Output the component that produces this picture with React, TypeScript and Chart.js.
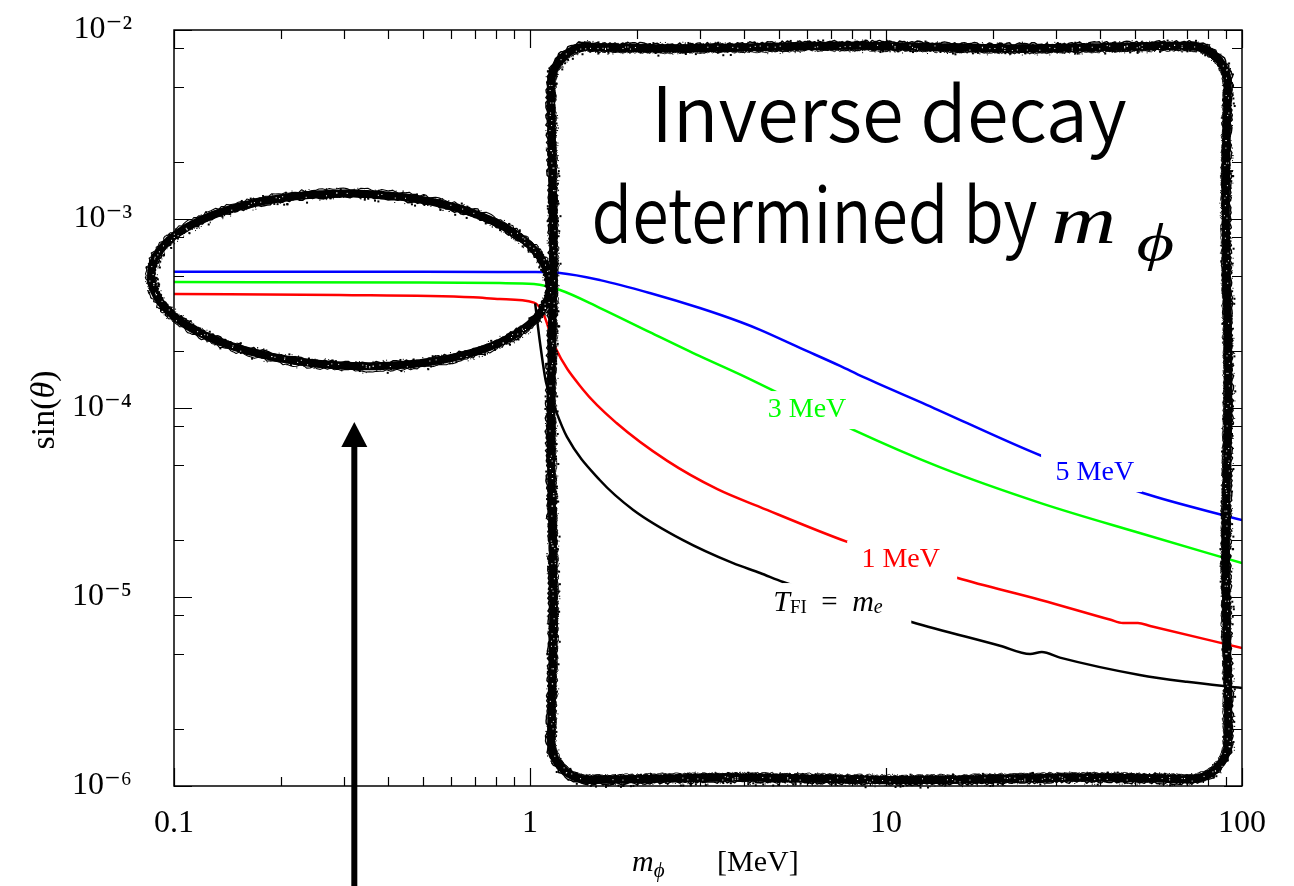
import React, { useEffect, useRef } from 'react';
import { Chart, registerables } from 'chart.js';

Chart.register(...registerables);

// ---------------- data ----------------
const xTickValues = [0.1, 1, 10, 100];
const xTickLabels = ['0.1', '1', '10', '100'];
const yTickValues = [1e-6, 1e-5, 1e-4, 1e-3, 1e-2];
const yTickLabels = ['10⁻⁶', '10⁻⁵', '10⁻⁴', '10⁻³', '10⁻²'];
const xMinorMultipliers = [2, 3, 4, 5, 6, 7, 8, 9];
const yMinorMultipliers = [2, 5, 8];

// T_FI = m_e (black)
const tfiMass = [1.034, 1.067, 1.11, 1.18, 1.27, 1.57, 1.95, 2.69, 3.72, 4.43, 5.14, 11.8, 20.9, 25.4, 27.4, 30.8, 51.6, 70, 100];
const tfiSin = [3.58e-4, 2.21e-4, 1.36e-4, 9.75e-5, 7.03e-5, 4.16e-5, 2.89e-5, 2.0e-5, 1.51e-5, 1.34e-5, 1.2e-5, 7.38e-6, 5.52e-6, 4.99e-6, 5.11e-6, 4.78e-6, 3.87e-6, 3.56e-6, 3.3e-6];

// T_FI = 1 MeV (red)
const mev1Mass = [0.1, 0.292, 0.692, 0.823, 1.026, 1.088, 1.176, 1.41, 1.75, 2.43, 3.36, 4.43, 7.82, 15.9, 27.2, 42.5, 46.3, 51.0, 55.2, 100];
const mev1Sin = [4.01e-4, 3.96e-4, 3.85e-4, 3.77e-4, 3.61e-4, 3.18e-4, 2.1e-4, 1.25e-4, 8.33e-5, 5.25e-5, 3.72e-5, 2.99e-5, 1.95e-5, 1.26e-5, 9.65e-6, 7.6e-6, 7.28e-6, 7.28e-6, 7.03e-6, 5.37e-6];

// T_FI = 3 MeV (green)
const mev3Mass = [0.1, 0.5, 0.823, 1.026, 1.214, 1.574, 2.17, 3.0, 3.9, 4.64, 8.1, 14.1, 27.2, 51.6, 100];
const mev3Sin = [4.64e-4, 4.61e-4, 4.58e-4, 4.53e-4, 4.21e-4, 3.38e-4, 2.52e-4, 1.88e-4, 1.5e-4, 1.28e-4, 7.66e-5, 4.88e-5, 3.14e-5, 2.18e-5, 1.51e-5];

// T_FI = 5 MeV (blue)
const mev5Mass = [0.1, 0.5, 0.823, 1.0, 1.214, 1.574, 2.17, 3.0, 3.9, 4.43, 5.73, 7.43, 8.62, 13.0, 27.4, 52.7, 100];
const mev5Sin = [5.26e-4, 5.26e-4, 5.25e-4, 5.24e-4, 5.18e-4, 4.75e-4, 4.06e-4, 3.38e-4, 2.85e-4, 2.59e-4, 2.08e-4, 1.67e-4, 1.46e-4, 1.04e-4, 5.57e-5, 3.55e-5, 2.55e-5];

// ---------------- styling / annotations ----------------
const SERIF = "'Liberation Serif', 'DejaVu Serif', serif";
const SANS = "'Noto Sans CJK JP', 'Noto Sans', sans-serif";

type Run = { text: string; font: string; dy?: number };

const curveLabels: { runs: Run[]; color: string; x: number; y: number; boxX: number; w: number; h: number }[] = [
  { runs: [{ text: '3 MeV', font: `28px ${SERIF}` }], color: '#00ff00', x: 6.0, y: 9.75e-5, boxX: 6.2, w: 86, h: 38 },
  { runs: [{ text: '5 MeV', font: `28px ${SERIF}` }], color: '#0000ff', x: 38.6, y: 4.53e-5, boxX: 37.8, w: 101, h: 38 },
  { runs: [{ text: '1 MeV', font: `28px ${SERIF}` }], color: '#ff0000', x: 11.0, y: 1.57e-5, boxX: 11.1, w: 110, h: 38 },
  {
    runs: [
      { text: 'T', font: `italic 30px ${SERIF}` },
      { text: 'FI', font: `19px ${SERIF}`, dy: 5 },
      { text: '  =  ', font: `29px ${SERIF}` },
      { text: 'm', font: `italic 30px ${SERIF}` },
      { text: 'e', font: `italic 20px ${SERIF}`, dy: 5 },
    ],
    color: '#000000', x: 6.87, y: 9.29e-6, boxX: 7.76, w: 129, h: 40,
  },
];

function mulberry32(a: number) {
  return function () {
    a |= 0;
    a = (a + 0x6d2b79f5) | 0;
    let t = Math.imul(a ^ (a >>> 15), 1 | a);
    t = (t + Math.imul(t ^ (t >>> 7), 61 | t)) ^ t;
    return ((t ^ (t >>> 14)) >>> 0) / 4294967296;
  };
}

function runsWidth(ctx: CanvasRenderingContext2D, runs: Run[]) {
  let w = 0;
  for (const r of runs) {
    ctx.font = r.font;
    w += ctx.measureText(r.text).width;
  }
  return w;
}

function drawRuns(ctx: CanvasRenderingContext2D, runs: Run[], x: number, y: number, align: 'left' | 'center') {
  let cx = align === 'center' ? x - runsWidth(ctx, runs) / 2 : x;
  ctx.textAlign = 'left';
  for (const r of runs) {
    ctx.font = r.font;
    ctx.fillText(r.text, cx, y + (r.dy || 0));
    cx += ctx.measureText(r.text).width;
  }
}

function fitText(ctx: CanvasRenderingContext2D, text: string, font: string, x0: number, x1: number, baseline: number) {
  ctx.font = font;
  const m = ctx.measureText(text);
  const left = m.actualBoundingBoxLeft || 0;
  const w = (m.actualBoundingBoxRight || m.width) + left;
  const s = Math.max(0.75, Math.min(1.4, (x1 - x0) / w));
  ctx.save();
  ctx.translate(x0, baseline);
  ctx.scale(s, 1);
  ctx.textAlign = 'left';
  ctx.textBaseline = 'alphabetic';
  ctx.fillText(text, left, 0);
  ctx.restore();
}

function roughStroke(ctx: CanvasRenderingContext2D, pts: [number, number][], seed: number) {
  const rnd = mulberry32(seed);
  const n = pts.length;
  const normals = pts.map((_, i) => {
    const a = pts[(i - 1 + n) % n];
    const b = pts[(i + 1) % n];
    const dx = b[0] - a[0];
    const dy = b[1] - a[1];
    const L = Math.hypot(dx, dy) || 1;
    return [-dy / L, dx / L];
  });
  ctx.save();
  ctx.strokeStyle = '#000';
  ctx.lineJoin = 'round';
  ctx.lineCap = 'round';
  const path = (off: (i: number) => number) => {
    ctx.beginPath();
    for (let i = 0; i <= n; i++) {
      const k = i % n;
      const o = off(k);
      const x = pts[k][0] + normals[k][0] * o;
      const y = pts[k][1] + normals[k][1] * o;
      if (i === 0) ctx.moveTo(x, y);
      else ctx.lineTo(x, y);
    }
    ctx.stroke();
  };
  const ph1 = rnd() * 6.28;
  const wob = (i: number) => 1.2 * Math.sin(i * 0.045 + ph1);
  ctx.lineWidth = 8;
  path((i) => wob(i));
  for (let p = 0; p < 10; p++) {
    ctx.lineWidth = 0.8 + rnd() * 0.8;
    const base = (rnd() - 0.5) * 9;
    path((i) => wob(i) + base + (rnd() - 0.5) * 3);
  }
  ctx.fillStyle = '#000';
  for (let i = 0; i < n * 2.5; i++) {
    const k = Math.floor(rnd() * n);
    const o = wob(k) + (rnd() - 0.5) * 13;
    const s = rnd() < 0.3 ? 2 : 1;
    ctx.fillRect(pts[k][0] + normals[k][0] * o, pts[k][1] + normals[k][1] * o, s, s);
  }
  ctx.fillStyle = '#fff';
  for (let i = 0; i < n * 0.3; i++) {
    const k = Math.floor(rnd() * n);
    const o = wob(k) + (rnd() - 0.5) * 4;
    ctx.fillRect(pts[k][0] + normals[k][0] * o, pts[k][1] + normals[k][1] * o, 1, 1);
  }
  ctx.restore();
}

function ellipsePoints(cx: number, cy: number, rx: number, ry: number, rot: number): [number, number][] {
  const pts: [number, number][] = [];
  const N = 360;
  for (let i = 0; i < N; i++) {
    const t = (i / N) * Math.PI * 2;
    const ex = rx * Math.cos(t);
    const ey = ry * Math.sin(t);
    pts.push([cx + ex * Math.cos(rot) - ey * Math.sin(rot), cy + ex * Math.sin(rot) + ey * Math.cos(rot)]);
  }
  return pts;
}

function roundRectPoints(x0: number, y0: number, x1: number, y1: number, r: number): [number, number][] {
  const pts: [number, number][] = [];
  const step = 2.5;
  const line = (ax: number, ay: number, bx: number, by: number) => {
    const L = Math.hypot(bx - ax, by - ay);
    const m = Math.max(1, Math.round(L / step));
    for (let i = 0; i < m; i++) pts.push([ax + ((bx - ax) * i) / m, ay + ((by - ay) * i) / m]);
  };
  const arc = (cx: number, cy: number, a0: number, a1: number) => {
    const m = 24;
    for (let i = 0; i < m; i++) {
      const a = a0 + ((a1 - a0) * i) / m;
      pts.push([cx + r * Math.cos(a), cy + r * Math.sin(a)]);
    }
  };
  line(x0 + r, y0, x1 - r, y0);
  arc(x1 - r, y0 + r, -Math.PI / 2, 0);
  line(x1, y0 + r, x1, y1 - r);
  arc(x1 - r, y1 - r, 0, Math.PI / 2);
  line(x1 - r, y1, x0 + r, y1);
  arc(x0 + r, y1 - r, Math.PI / 2, Math.PI);
  line(x0, y1 - r, x0, y0 + r);
  arc(x0 + r, y0 + r, Math.PI, Math.PI * 1.5);
  return pts;
}

const overlayPlugin = {
  id: 'overlay',
  afterDatasetsDraw(chart: any) {
    const ctx: CanvasRenderingContext2D = chart.ctx;
    const xs = chart.scales.x;
    const ys = chart.scales.y;
    const { left, right, top, bottom } = chart.chartArea;

    // curve labels with white boxes
    ctx.save();
    for (const lb of curveLabels) {
      const px = xs.getPixelForValue(lb.x);
      const py = ys.getPixelForValue(lb.y);
      const bx = xs.getPixelForValue(lb.boxX);
      ctx.fillStyle = '#fff';
      ctx.fillRect(bx - lb.w / 2, py - lb.h / 2, lb.w, lb.h);
      ctx.fillStyle = lb.color;
      ctx.textBaseline = 'middle';
      drawRuns(ctx, lb.runs, px, py, 'center');
    }
    ctx.restore();

    // frame and inward ticks
    ctx.save();
    ctx.strokeStyle = '#000';
    ctx.lineWidth = 1.5;
    ctx.strokeRect(left, top, right - left, bottom - top);
    ctx.lineWidth = 1.2;
    ctx.beginPath();
    for (let d = 0; d < xTickValues.length; d++) {
      const v = xTickValues[d];
      const px = Math.round(xs.getPixelForValue(v)) + 0.5;
      ctx.moveTo(px, bottom); ctx.lineTo(px, bottom - 18);
      ctx.moveTo(px, top); ctx.lineTo(px, top + 18);
      if (d < xTickValues.length - 1) {
        for (const m of xMinorMultipliers) {
          const qx = Math.round(xs.getPixelForValue(v * m)) + 0.5;
          ctx.moveTo(qx, bottom); ctx.lineTo(qx, bottom - 9);
          ctx.moveTo(qx, top); ctx.lineTo(qx, top + 9);
        }
      }
    }
    for (let d = 0; d < yTickValues.length; d++) {
      const v = yTickValues[d];
      const py = Math.round(ys.getPixelForValue(v)) + 0.5;
      ctx.moveTo(left, py); ctx.lineTo(left + 18, py);
      ctx.moveTo(right, py); ctx.lineTo(right - 18, py);
      if (d < yTickValues.length - 1) {
        for (const m of yMinorMultipliers) {
          const qy = Math.round(ys.getPixelForValue(v * m)) + 0.5;
          ctx.moveTo(left, qy); ctx.lineTo(left + 10, qy);
          ctx.moveTo(right, qy); ctx.lineTo(right - 10, qy);
        }
      }
    }
    ctx.stroke();
    ctx.restore();

    // hand-drawn rounded rectangle
    const rx0 = xs.getPixelForValue(1.153);
    const rx1 = xs.getPixelForValue(90.8);
    const ry0 = ys.getPixelForValue(8.13e-3);
    const ry1 = ys.getPixelForValue(1.09e-6);
    roughStroke(ctx, roundRectPoints(rx0, ry0, rx1, ry1, 38), 7);

    // hand-drawn ellipse
    const ex0 = xs.getPixelForValue(0.0868);
    const ex1 = xs.getPixelForValue(1.138);
    const ey0 = ys.getPixelForValue(1.37e-3);
    const ey1 = ys.getPixelForValue(1.65e-4);
    roughStroke(ctx, ellipsePoints((ex0 + ex1) / 2, (ey0 + ey1) / 2, (ex1 - ex0) / 2, (ey1 - ey0) / 2, 0.03), 11);

    // big text
    ctx.save();
    ctx.fillStyle = '#000';
    const b1 = ys.getPixelForValue(2.55e-3);
    fitText(ctx, 'Inverse decay', `350 76px ${SANS}`, xs.getPixelForValue(2.29), xs.getPixelForValue(47.2), b1);
    const b2 = ys.getPixelForValue(7.46e-4);
    fitText(ctx, 'determined by', `350 76px ${SANS}`, xs.getPixelForValue(1.523), xs.getPixelForValue(26.5), b2);
    fitText(ctx, 'm', `italic 68px ${SERIF}`, xs.getPixelForValue(29.6), xs.getPixelForValue(43.5), b2);
    fitText(ctx, 'ϕ', `italic 52px ${SERIF}`, xs.getPixelForValue(51.0), xs.getPixelForValue(71.0), b2 + 17);
    ctx.restore();

    // arrow
    ctx.save();
    const ax = xs.getPixelForValue(0.321);
    const tipY = ys.getPixelForValue(8.43e-5);
    ctx.fillStyle = '#000';
    ctx.fillRect(ax - 3, tipY + 20, 6, chart.height - tipY);
    ctx.beginPath();
    ctx.moveTo(ax, tipY);
    ctx.lineTo(ax - 13, tipY + 25);
    ctx.lineTo(ax + 13, tipY + 25);
    ctx.closePath();
    ctx.fill();
    ctx.restore();
  },
  afterDraw(chart: any) {
    const ctx: CanvasRenderingContext2D = chart.ctx;
    const { left, right, top, bottom } = chart.chartArea;
    const mid = (left + right) / 2;
    ctx.save();
    ctx.fillStyle = '#000';
    ctx.textBaseline = 'alphabetic';
    drawRuns(
      ctx,
      [
        { text: 'm', font: `italic 30px ${SERIF}` },
        { text: 'ϕ', font: `italic 21px ${SERIF}`, dy: 6 },
      ],
      mid - 76,
      bottom + 85,
      'left'
    );
    drawRuns(ctx, [{ text: '[MeV]', font: `30px ${SERIF}` }], mid + 9, bottom + 85, 'left');
    ctx.translate(left - 129, (top + bottom) / 2 + 2);
    ctx.rotate(-Math.PI / 2);
    ctx.textBaseline = 'middle';
    drawRuns(
      ctx,
      [
        { text: 'sin(', font: `34px ${SERIF}` },
        { text: 'θ', font: `italic 34px ${SERIF}` },
        { text: ')', font: `34px ${SERIF}` },
      ],
      0,
      0,
      'center'
    );
    ctx.restore();
  },
};

function labelFor(values: number[], labels: string[], v: number) {
  for (let i = 0; i < values.length; i++) {
    if (Math.abs(values[i] - v) <= Math.abs(values[i]) * 1e-6) return labels[i];
  }
  return '';
}

export default function App() {
  const ref = useRef<HTMLCanvasElement>(null);
  useEffect(() => {
    if (!ref.current) return;
    const mk = (xsArr: number[], ysArr: number[]) => xsArr.map((x, i) => ({ x, y: ysArr[i] }));
    const common = { pointRadius: 0, borderWidth: 2.5, fill: false, cubicInterpolationMode: 'monotone' as const };
    const chart = new Chart(ref.current, {
      type: 'line',
      data: {
        datasets: [
          { label: 'T_FI = m_e', data: mk(tfiMass, tfiSin), borderColor: '#000000', ...common },
          { label: '1 MeV', data: mk(mev1Mass, mev1Sin), borderColor: '#ff0000', ...common },
          { label: '3 MeV', data: mk(mev3Mass, mev3Sin), borderColor: '#00ff00', ...common },
          { label: '5 MeV', data: mk(mev5Mass, mev5Sin), borderColor: '#0000ff', ...common },
        ],
      },
      options: {
        responsive: false,
        animation: false,
        devicePixelRatio: 1,
        layout: { padding: { top: 30, right: 52, left: 0, bottom: 0 } },
        plugins: { legend: { display: false }, tooltip: { enabled: false } },
        scales: {
          x: {
            type: 'logarithmic',
            min: 0.1,
            max: 100,
            afterBuildTicks: (s: any) => {
              s.ticks = xTickValues.map((v) => ({ value: v }));
            },
            afterFit: (s: any) => {
              s.height = 100;
              s.paddingLeft = 0;
              s.paddingRight = 0;
            },
            grid: { display: false },
            border: { display: false },
            ticks: {
              autoSkip: false,
              maxRotation: 0,
              padding: 10,
              color: '#000',
              font: { family: SERIF, size: 32 },
              callback: (v: any) => labelFor(xTickValues, xTickLabels, Number(v)),
            },
          },
          y: {
            type: 'logarithmic',
            min: 1e-6,
            max: 1e-2,
            afterBuildTicks: (s: any) => {
              s.ticks = yTickValues.map((v) => ({ value: v }));
            },
            afterFit: (s: any) => {
              s.width = 174;
              s.paddingTop = 0;
              s.paddingBottom = 0;
            },
            grid: { display: false },
            border: { display: false },
            ticks: {
              autoSkip: false,
              padding: 34,
              color: '#000',
              font: { family: SERIF, size: 32 },
              callback: (v: any) => labelFor(yTickValues, yTickLabels, Number(v)),
            },
          },
        },
      },
      plugins: [overlayPlugin],
    });
    return () => chart.destroy();
  }, []);
  return (
    <div style={{ position: 'absolute', left: 0, top: 0, width: 1294, height: 886, background: '#fff' }}>
      <canvas ref={ref} width={1294} height={886} style={{ display: 'block' }} />
    </div>
  );
}
